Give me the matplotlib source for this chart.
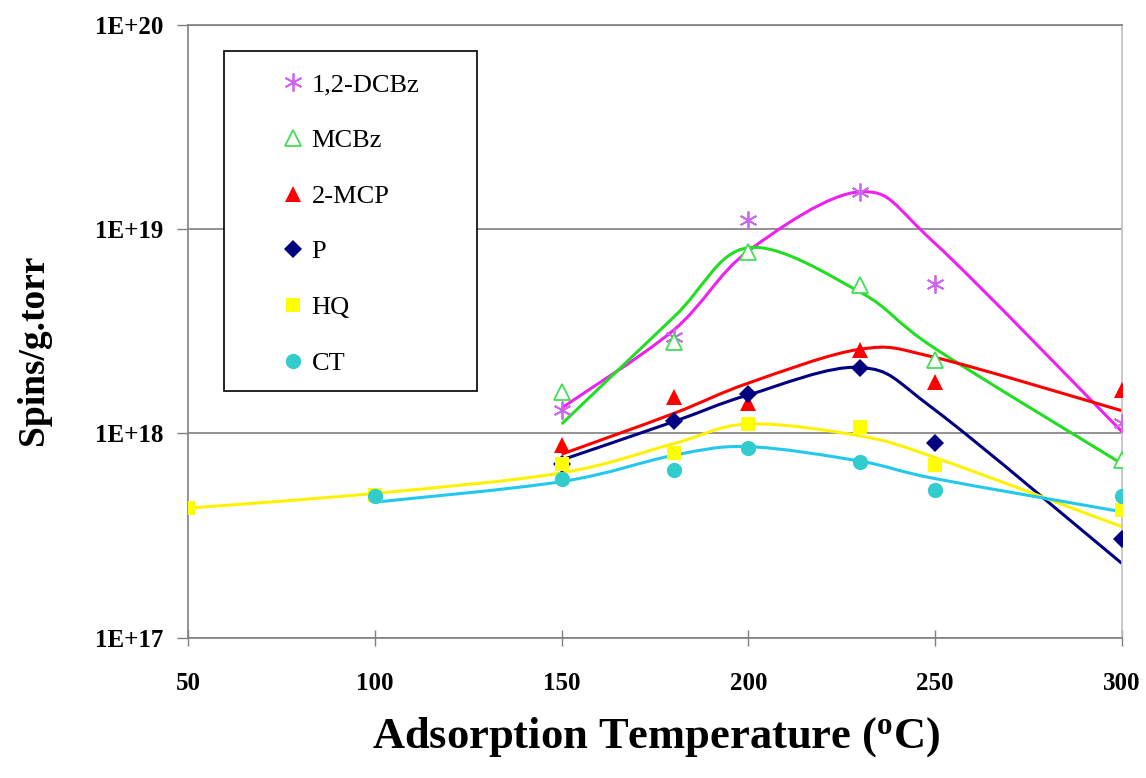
import numpy as np
import matplotlib.pyplot as plt
from matplotlib.path import Path
from matplotlib.patches import PathPatch, Rectangle
from matplotlib.lines import Line2D
from matplotlib.ticker import NullLocator

plt.rcParams['font.family'] = ['Liberation Serif', 'DejaVu Serif']
plt.rcParams['mathtext.fontset'] = 'custom'
plt.rcParams['mathtext.rm'] = 'Liberation Serif'
plt.rcParams['mathtext.bf'] = 'Liberation Serif:bold'

# measured points
x_main = [150, 180, 200, 230, 250, 300]
dcbz = [1.30e18, 2.96e18, 1.11e19, 1.51e19, 5.4e18, 1.12e18]
mcbz = [1.6e18, 2.8e18, 7.74e18, 5.32e18, 2.29e18, 7.4e17]
mcp = [8.8e17, 1.51e18, 1.41e18, 2.56e18, 1.79e18, 1.63e18]
p_vals = [7.1e17, 1.15e18, 1.56e18, 2.09e18, 9.0e17, 3.03e17]
x_hq = [50, 100, 150, 180, 200, 230, 250, 300]
hq = [4.3e17, 5.0e17, 7.1e17, 8.0e17, 1.11e18, 1.07e18, 7.0e17, 4.2e17]
x_ct = [100, 150, 180, 200, 230, 250, 300]
ct = [4.95e17, 5.97e17, 6.6e17, 8.5e17, 7.2e17, 5.3e17, 4.93e17]

# fitted curves (smoothed lines)
dcbz_fit = [1.33e18, 3.2e18, 7.8e18, 1.52e19, 8.5e18, 1.02e18]
mcbz_fit = [1.11e18, 3.7e18, 8.1e18, 4.9e18, 2.6e18, 7.1e17]
mcp_fit = [7.9e17, 1.25e18, 1.76e18, 2.58e18, 2.35e18, 1.29e18]
p_fit = [7.4e17, 1.14e18, 1.54e18, 2.1e18, 1.3e18, 2.31e17]
hq_fit = [4.3e17, 5.08e17, 6.4e17, 8.9e17, 1.11e18, 9.7e17, 7.6e17, 3.49e17]
ct_fit = [4.6e17, 5.8e17, 7.8e17, 8.6e17, 7.3e17, 6.0e17, 4.13e17]

labels = ['1,2-DCBz', 'MCBz', '2-MCP', 'P', 'HQ', 'CT']
x_ticks = [50, 100, 150, 200, 250, 300]
y_ticks = [1e17, 1e18, 1e19, 1e20]
y_tick_labels = ['1E+17', '1E+18', '1E+19', '1E+20']


def smooth_path(xs, ys):
    # excel-like smoothed line: catmull-rom segments as cubic beziers in (x, log y)
    px = np.asarray(xs, dtype=float)
    py = np.log10(np.asarray(ys, dtype=float))
    n = len(px)
    verts = [(px[0], py[0])]
    codes = [Path.MOVETO]
    for i in range(n - 1):
        i0 = max(i - 1, 0)
        i3 = min(i + 2, n - 1)
        c1 = (px[i] + (px[i + 1] - px[i0]) / 6, py[i] + (py[i + 1] - py[i0]) / 6)
        c2 = (px[i + 1] - (px[i3] - px[i]) / 6, py[i + 1] - (py[i3] - py[i]) / 6)
        verts += [c1, c2, (px[i + 1], py[i + 1])]
        codes += [Path.CURVE4] * 3
    verts = [(vx, 10 ** vy) for vx, vy in verts]
    return Path(verts, codes)


fig = plt.figure(figsize=(11.46, 7.78), dpi=100)
ax = fig.add_axes([0.1643, 0.1805, 0.8145, 0.7878])

series = [
    (x_main, dcbz, dcbz_fit, '#EE22EE', dict(marker=(6, 2, 0), ms=13, mec='#CC66EE', mfc='none', mew=1.3)),
    (x_main, mcbz, mcbz_fit, '#22DD22', dict(marker='^', ms=12, mec='#44DD55', mfc='white', mew=1.3)),
    (x_main, mcp, mcp_fit, '#FF0000', dict(marker='^', ms=12, mec='#FF0000', mfc='#FF0000', mew=0)),
    (x_main, p_vals, p_fit, '#000080', dict(marker='D', ms=9, mec='#000080', mfc='#000080', mew=0)),
    (x_hq, hq, hq_fit, '#FFF200', dict(marker='s', ms=10, mec='#FFFF00', mfc='#FFFF00', mew=0)),
    (x_ct, ct, ct_fit, '#22C8EE', dict(marker='o', ms=11, mec='#33CCCC', mfc='#33CCCC', mew=0)),
]

handles = []
for i, (xs, ys, fit, lc, mk) in enumerate(series):
    ax.add_patch(PathPatch(smooth_path(xs, fit), fill=False, edgecolor=lc, lw=2.2, zorder=2 + i * 0.1))
    ax.plot(xs, ys, ls='none', zorder=3 + i * 0.1, **mk)
    handles.append(Line2D([], [], ls='none', **mk))

ax.set_yscale('log')
ax.set_xlim(50, 300)
ax.set_ylim(1e17, 1e20)
ax.set_xticks(x_ticks)
ax.set_xticklabels([str(v) for v in x_ticks])
ax.set_yticks(y_ticks)
ax.set_yticklabels(y_tick_labels)
ax.yaxis.set_minor_locator(NullLocator())
ax.grid(axis='y', color='#808080', lw=1.2)
ax.set_axisbelow(True)

for tl in ax.get_xticklabels() + ax.get_yticklabels():
    tl.set_fontweight('bold')
    tl.set_fontsize(18)
ax.tick_params(axis='y', direction='out', length=8, width=1, color='#808080', pad=10)
ax.tick_params(axis='x', direction='inout', length=12, width=1, color='#808080', pad=19)

ax.spines['left'].set_color('#808080')
ax.spines['bottom'].set_color('#808080')
ax.spines['top'].set_color('#808080')
ax.spines['right'].set_color('#C0C0C0')
for s in ax.spines.values():
    s.set_linewidth(1.2)

fig.text(0.029, 1 - 350 / 778, 'Spins/g.torr', rotation=90, ha='center', va='center',
         fontsize=27, fontweight='bold')
fig.text(0.5724, 1 - 737 / 778, 'Adsorption Temperature ($\\mathbf{^{o}}$C)', ha='center', va='center',
         fontsize=32, fontweight='bold')

# legend box
fig.patches.append(Rectangle((224 / 1146, 1 - 391 / 778), 253 / 1146, 340 / 778,
                             transform=fig.transFigure, facecolor='white', edgecolor='black', lw=1.2, zorder=5))
leg = fig.legend(handles, labels, loc='upper left', bbox_to_anchor=(280 / 1146, 1 - 73 / 778),
                 frameon=False, fontsize=19, handlelength=1.0, handletextpad=0.2,
                 labelspacing=1.22, borderpad=0, borderaxespad=0)
leg.set_zorder(6)

fig.savefig('out.png', dpi=100)
